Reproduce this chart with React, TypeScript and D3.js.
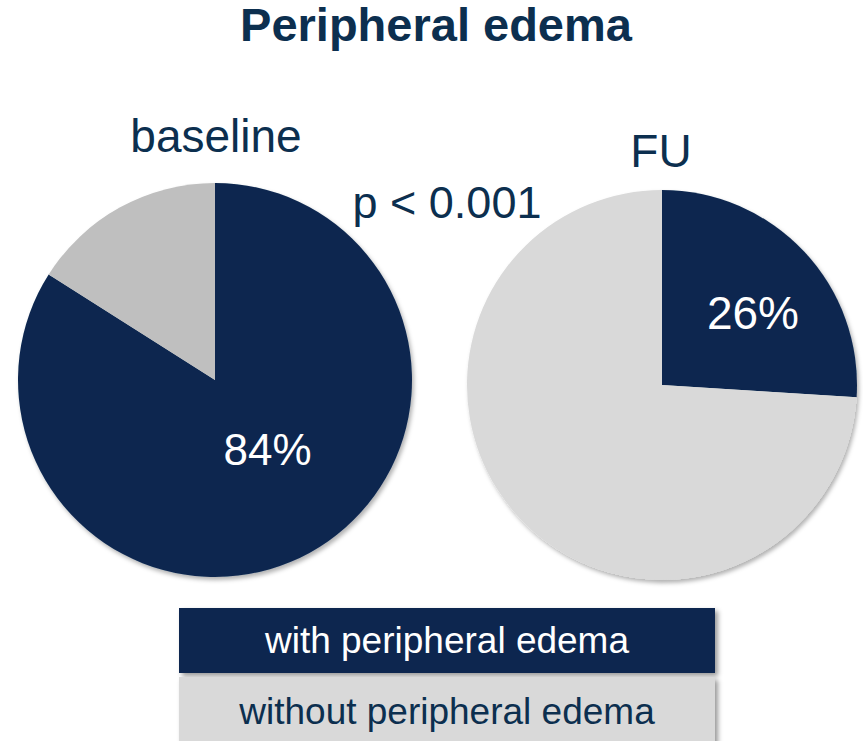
import React from "react";
import * as d3 from "d3";

// ---- data ----
const title = "Peripheral edema";
const categories = ["with peripheral edema", "without peripheral edema"];
const groups = ["baseline", "FU"];
const withEdema = [84, 26];
const withoutEdema = [16, 74];
const pValueText = "p < 0.001";

// ---- styles / layout ----
const W = 863;
const H = 741;
const NAVY = "#0b2850";
const TEXT_NAVY = "#0c2f4f";
const GREY_BASE = "#bfbfbf";
const GREY_FU = "#d9d9d9";
const FONT = "'Liberation Sans', Arial, Helvetica, sans-serif";

const pies = [
  { cx: 215, cy: 380, r: 197, grey: GREY_BASE, titleX: 216, titleY: 152, labelAngle: 142.7, labelR: 0.44, labelFont: 44 },
  { cx: 662, cy: 385, r: 195, grey: GREY_FU, titleX: 661, titleY: 167, labelAngle: 51.6, labelR: 0.595, labelFont: 46 },
];

export default function App() {
  const pie = d3
    .pie<number>()
    .sort(null)
    .value((d) => d)
    .startAngle(0)
    .endAngle(2 * Math.PI);

  return (
    <svg
      width={W}
      height={H}
      viewBox={`0 0 ${W} ${H}`}
      style={{ position: "absolute", left: 0, top: 0, background: "#ffffff" }}
    >
      <defs>
        <filter id="pieShadow" x="-10%" y="-10%" width="120%" height="120%">
          <feDropShadow dx="2" dy="3" stdDeviation="2" floodColor="#000" floodOpacity="0.3" />
        </filter>
        <filter id="boxShadow" x="-5%" y="-20%" width="110%" height="140%">
          <feDropShadow dx="3" dy="3" stdDeviation="2.5" floodColor="#000" floodOpacity="0.4" />
        </filter>
      </defs>

      <text
        x={436}
        y={41}
        textAnchor="middle"
        fontFamily={FONT}
        fontWeight="bold"
        fontSize={47}
        fill={TEXT_NAVY}
      >
        {title}
      </text>

      {groups.map((g, i) => {
        const p = pies[i];
        const arcs = pie([withEdema[i], withoutEdema[i]]);
        const arcGen = d3.arc<d3.PieArcDatum<number>>().innerRadius(0).outerRadius(p.r);
        const colors = [NAVY, p.grey];
        const a = (p.labelAngle * Math.PI) / 180;
        const lr = p.labelR * p.r;
        const lx = p.cx + Math.sin(a) * lr;
        const ly = p.cy - Math.cos(a) * lr;
        return (
          <g key={g}>
            <text
              x={p.titleX}
              y={p.titleY}
              textAnchor="middle"
              fontFamily={FONT}
              fontSize={46}
              fill={TEXT_NAVY}
            >
              {g}
            </text>
            <g transform={`translate(${p.cx},${p.cy})`} filter="url(#pieShadow)">
              {arcs.map((d, j) => (
                <path key={j} d={arcGen(d) || ""} fill={colors[j]} />
              ))}
            </g>
            <text
              x={lx}
              y={ly + p.labelFont * 0.358}
              textAnchor="middle"
              fontFamily={FONT}
              fontSize={p.labelFont}
              fill="#ffffff"
            >
              {`${withEdema[i]}%`}
            </text>
          </g>
        );
      })}

      <text
        x={447}
        y={218}
        textAnchor="middle"
        fontFamily={FONT}
        fontSize={45}
        fill={TEXT_NAVY}
      >
        {pValueText}
      </text>

      {categories.map((c, k) => {
        const y0 = k === 0 ? 608 : 677;
        const h = k === 0 ? 65 : 70;
        return (
          <g key={c}>
            <rect
              x={179}
              y={y0}
              width={536}
              height={h}
              fill={k === 0 ? NAVY : GREY_FU}
              filter="url(#boxShadow)"
            />
            <text
              x={447}
              y={k === 0 ? 653 : 724}
              textAnchor="middle"
              fontFamily={FONT}
              fontSize={37}
              fill={k === 0 ? "#ffffff" : TEXT_NAVY}
            >
              {c}
            </text>
          </g>
        );
      })}
    </svg>
  );
}
